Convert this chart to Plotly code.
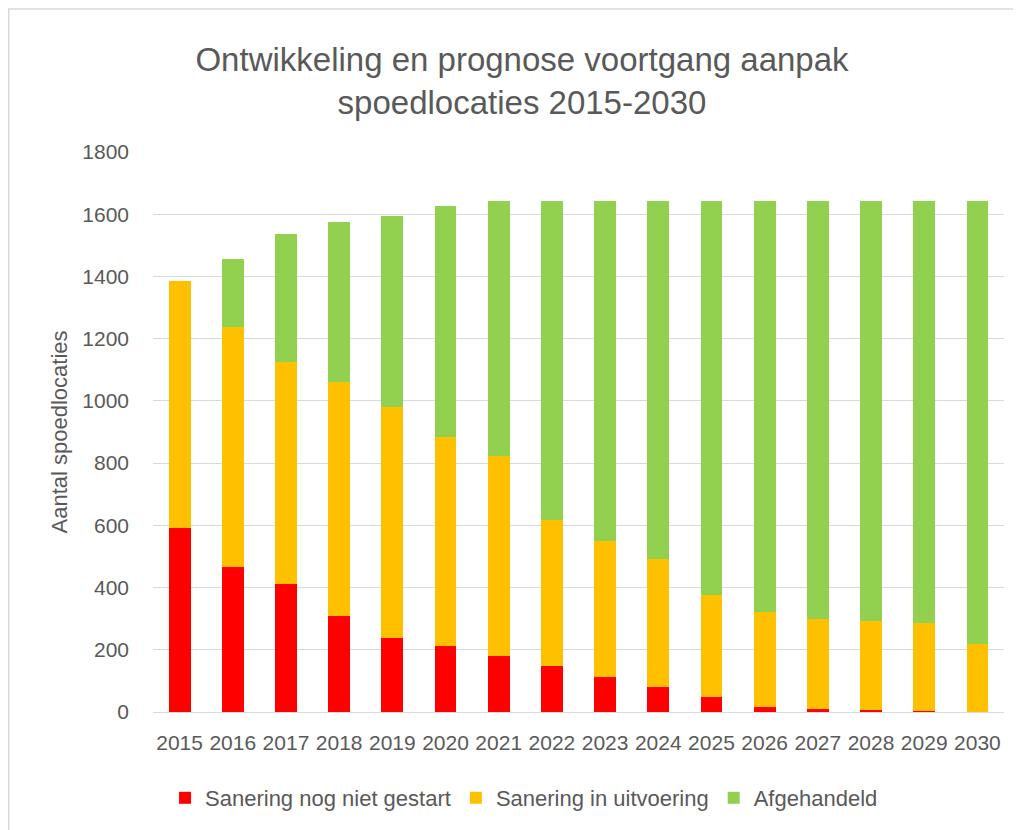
import plotly.graph_objects as go

years = [str(y) for y in range(2015, 2031)]
niet_gestart = [591, 465, 410, 307, 237, 213, 181, 148, 114, 81, 49, 15, 11, 7, 2, 0]
in_uitvoering = [793, 773, 716, 753, 744, 671, 641, 468, 435, 411, 326, 306, 288, 284, 283, 218]
afgehandeld = [0, 218, 411, 515, 614, 741, 822, 1028, 1095, 1152, 1269, 1323, 1345, 1353, 1359, 1426]

series_names = ["Sanering nog niet gestart", "Sanering in uitvoering", "Afgehandeld"]
colors = ["#FF0000", "#FFC000", "#92D050"]

fig = go.Figure()
for name, vals, col in zip(series_names, [niet_gestart, in_uitvoering, afgehandeld], colors):
    fig.add_trace(go.Bar(x=years, y=vals, name=name, marker=dict(color=col, line=dict(width=0))))

# page is offset by the 8px body margin
W, H = 1013, 822
L, R, T, B = 145, 17, 144, 117
pw = W - L - R
ph = H - T - B

def px(x):
    return (x - L) / pw

def py(y):
    return (H - B - y) / ph

font = "Liberation Sans"
grey = "#595959"

fig.update_layout(
    width=W, height=H,
    margin=dict(l=L, r=R, t=T, b=B),
    barmode="stack",
    bargap=0.59,
    plot_bgcolor="white",
    paper_bgcolor="white",
    font=dict(family=font, color=grey, size=21),
    title=dict(
        text="Ontwikkeling en prognose voortgang aanpak<br>spoedlocaties 2015-2030",
        x=px(514), xref="paper", xanchor="center", y=1 - 63 / H, yanchor="middle",
        font=dict(family=font, size=33, color=grey),
    ),
    xaxis=dict(
        showgrid=False, showline=True, linecolor="#d9d9d9", linewidth=1,
        ticks="", tickfont=dict(size=21, color=grey), ticklabelstandoff=12,
    ),
    yaxis=dict(
        range=[0, 1800], dtick=200, showgrid=True, gridcolor="#d9d9d9", gridwidth=1,
        zeroline=False, showline=False, ticks="", tickfont=dict(size=21, color=grey),
        ticklabelstandoff=23,
        title=dict(text="Aantal spoedlocaties", font=dict(size=22, color=grey), standoff=8),
    ),
    legend=dict(
        orientation="h", x=0.436, xanchor="center", y=py(790), yanchor="middle",
        font=dict(size=22, color=grey), traceorder="normal", itemwidth=30,
    ),
    shapes=[dict(
        type="rect", xref="paper", yref="paper",
        x0=px(0.75), x1=px(1040), y0=py(850), y1=py(0.75),
        line=dict(color="#d9d9d9", width=1.5), fillcolor="rgba(0,0,0,0)", layer="below",
    )],
)

fig.write_html("out.html")
